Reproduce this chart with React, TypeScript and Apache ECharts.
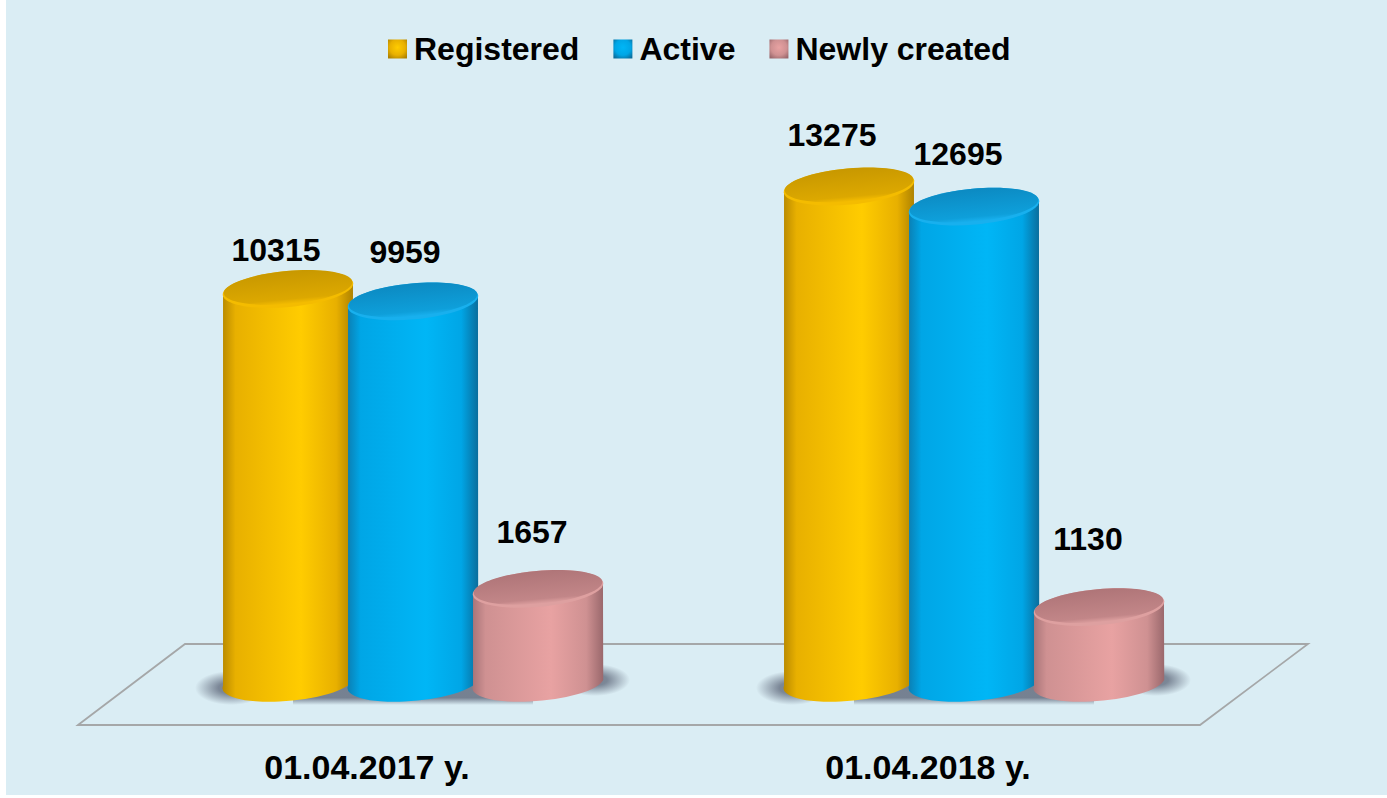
import React, { useEffect, useRef } from "react";
import * as echarts from "echarts";

const categories = ["01.04.2017 y.", "01.04.2018 y."];
const seriesNames = ["Registered", "Active", "Newly created"];
const registered = [10315, 13275];
const active = [9959, 12695];
const newlyCreated = [1657, 1130];
const seriesValues = [registered, active, newlyCreated];

// Layout / style (not data)
const FLOOR_VALUE = -960;
const STEP = 125;
const RX = 65.5;
const RY = 18;
const TILT = 0.09;
const FONT = '"Liberation Sans", Arial, sans-serif';
const labelLift = [
  [38.5, 51],
  [49, 52],
  [56.4, 67.6],
];
const labelShift = [
  [-12, -17],
  [-8, -16],
  [-6, -11],
];
const palette = [
  { edgeL: "#B98A00", mid: "#E8B000", bright: "#FFCC00", edgeR: "#AE8200", cap: "#DCA800", capDark: "#C89800", rim: "#F4BC00" },
  { edgeL: "#0B7FB4", mid: "#00A6E6", bright: "#00B6F6", edgeR: "#0A6D9C", cap: "#0E9FDA", capDark: "#0C8AC2", rim: "#18B0EE" },
  { edgeL: "#A87478", mid: "#CF9192", bright: "#E8A2A2", edgeR: "#9A686C", cap: "#C28688", capDark: "#AF7578", rim: "#DEA0A0" },
];

const hGrad = (p: any) =>
  new echarts.graphic.LinearGradient(0, 0, 1, 0, [
    { offset: 0, color: p.edgeL },
    { offset: 0.1, color: p.mid },
    { offset: 0.6, color: p.bright },
    { offset: 0.87, color: p.mid },
    { offset: 1, color: p.edgeR },
  ]);

const legendGrad = (p: any) =>
  new echarts.graphic.RadialGradient(0.5, 0.42, 0.68, [
    { offset: 0, color: p.bright },
    { offset: 0.6, color: p.mid },
    { offset: 1, color: p.edgeR },
  ]);

const makeCylinder = (si: number) => (params: any, api: any) => {
  const p = palette[si];
  const ci = api.value(0);
  const v = api.value(1);
  const top = api.coord([ci, v]);
  const base = api.coord([ci, FLOOR_VALUE]);
  const cx = top[0] + (si - 1) * STEP;
  const cy = top[1];
  const by = base[1];
  const dx = RX * Math.cos(TILT);
  const dy = RX * Math.sin(TILT);
  const ext = Math.sqrt(RY * RY * Math.cos(TILT) ** 2 + RX * RX * Math.sin(TILT) ** 2);
  const d =
    `M ${cx - dx} ${cy + dy} L ${cx - dx} ${by + dy} ` +
    `A ${RX} ${RY} ${(-TILT * 180) / Math.PI} 0 0 ${cx + dx} ${by - dy} ` +
    `L ${cx + dx} ${cy - dy} Z`;
  return {
    type: "group",
    children: [
      {
        type: "path",
        shape: { pathData: d, layout: "cover", x: cx - dx, y: cy - dy + 2, width: 2 * dx, height: by + ext - (cy - dy + 2) },
        style: { fill: hGrad(p) },
      },
      {
        type: "ellipse",
        x: cx,
        y: cy + 0.5,
        rotation: TILT,
        shape: { cx: 0, cy: 0, rx: RX, ry: RY },
        style: { fill: p.rim },
      },
      {
        type: "ellipse",
        x: cx,
        y: cy - 1,
        rotation: TILT,
        shape: { cx: 0, cy: 0, rx: RX - 1, ry: RY - 1.5 },
        style: {
          fill: new echarts.graphic.LinearGradient(0, 0, 0, 1, [
            { offset: 0, color: p.capDark },
            { offset: 0.85, color: p.cap },
            { offset: 1, color: p.rim },
          ]),
        },
      },
      {
        type: "text",
        z2: 100,
        style: {
          x: cx + labelShift[si][ci],
          y: cy - labelLift[si][ci],
          text: String(v),
          fill: "#000",
          font: `bold 32px ${FONT}`,
          textAlign: "center",
          textVerticalAlign: "middle",
        },
      },
    ],
  };
};

const softEnd = () =>
  new echarts.graphic.RadialGradient(0.5, 0.5, 0.5, [
    { offset: 0, color: "rgba(100,110,128,0.85)" },
    { offset: 0.35, color: "rgba(100,110,128,0.8)" },
    { offset: 1, color: "rgba(100,110,128,0)" },
  ]);

const renderShadow = (params: any, api: any) => {
  const c = api.coord([api.value(0), FLOOR_VALUE]);
  return {
    type: "group",
    children: [
      {
        type: "ellipse",
        shape: { cx: c[0] - 182, cy: c[1] + 9, rx: 36, ry: 17 },
        style: { fill: softEnd() },
      },
      {
        type: "ellipse",
        shape: { cx: c[0] + 182, cy: c[1] + 1, rx: 35, ry: 16 },
        style: { fill: softEnd() },
      },
      {
        type: "rect",
        shape: { x: c[0] - 120, y: c[1] - 10, width: 240, height: 36 },
        style: {
          fill: new echarts.graphic.LinearGradient(0, 0, 0, 1, [
            { offset: 0, color: "rgba(100,110,128,0)" },
            { offset: 0.3, color: "rgba(100,110,128,0.85)" },
            { offset: 0.8, color: "rgba(100,110,128,0.85)" },
            { offset: 1, color: "rgba(100,110,128,0)" },
          ]),
        },
      },
    ],
  };
};

export default function App() {
  const ref = useRef<HTMLDivElement>(null);
  useEffect(() => {
    document.body.style.margin = "0";
    const chart = echarts.init(ref.current!, null, { renderer: "svg" });
    chart.setOption({
      animation: false,
      backgroundColor: "#fff",
      graphic: [
        {
          type: "rect",
          z: -10,
          shape: { x: 6, y: 0, width: 1381, height: 795 },
          style: { fill: "#DAEDF4" },
        },
        {
          type: "polygon",
          z: -5,
          shape: { points: [[78, 725], [185, 644], [1308, 644], [1200, 725]] },
          style: { fill: "transparent", stroke: "#A5A7A8", lineWidth: 1.8 },
        },
      ],
      legend: {
        left: 383,
        top: 28,
        itemWidth: 19,
        itemHeight: 19,
        itemGap: 34,
        selectedMode: false,
        icon: "rect",
        textStyle: { fontFamily: FONT, fontWeight: "bold", fontSize: 32, color: "#000", padding: [0, 0, 0, 2] },
        data: seriesNames.map((name, i) => ({ name, itemStyle: { color: legendGrad(palette[i]) } })),
      },
      grid: { left: 132.5, width: 561 * 2, top: 126.3, height: 571.4, containLabel: false },
      xAxis: {
        type: "category",
        data: categories,
        axisLine: { show: false },
        axisTick: { show: false },
        axisLabel: {
          margin: 52,
          color: "#000",
          fontFamily: FONT,
          fontWeight: "bold",
          fontSize: 34,
          padding: [0, 92, 0, 0],
        },
      },
      yAxis: { type: "value", min: -1500, max: 15000, interval: 1500, show: false },
      series: [
        {
          type: "custom",
          name: "shadow",
          silent: true,
          z: 1,
          clip: false,
          renderItem: renderShadow,
          data: categories.map((_, i) => [i, 0]),
          encode: { x: 0, y: 1 },
        },
        ...seriesNames.map((name, si) => ({
          type: "custom",
          name,
          z: 2 + si,
          clip: false,
          renderItem: makeCylinder(si),
          itemStyle: { color: palette[si].bright },
          data: seriesValues[si].map((v, i) => [i, v]),
          encode: { x: 0, y: 1 },
        })),
      ],
    });
    return () => chart.dispose();
  }, []);
  return <div ref={ref} style={{ position: "fixed", left: 0, top: 0, width: 1387, height: 798 }} />;
}
